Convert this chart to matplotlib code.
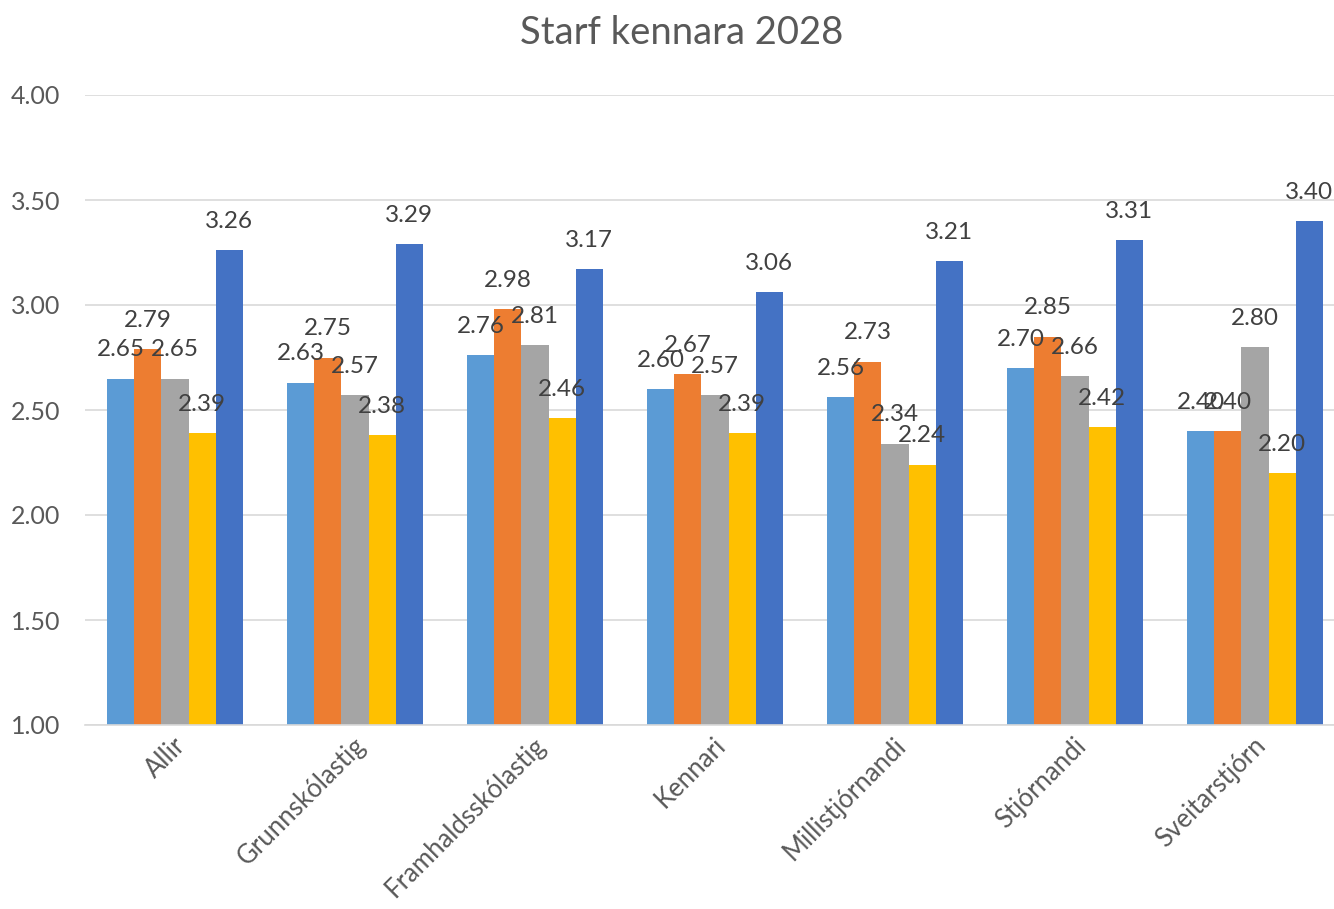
import matplotlib.pyplot as plt
import matplotlib.transforms as mtransforms
import numpy as np

plt.rcParams['font.family'] = ['Lato', 'DejaVu Sans']

# Gögn
categories = ["Allir", "Grunnskólastig", "Framhaldsskólastig", "Kennari",
              "Millistjórnandi", "Stjórnandi", "Sveitarstjórn"]
series_1 = [2.65, 2.63, 2.76, 2.60, 2.56, 2.70, 2.40]
series_2 = [2.79, 2.75, 2.98, 2.67, 2.73, 2.85, 2.40]
series_3 = [2.65, 2.57, 2.81, 2.57, 2.34, 2.66, 2.80]
series_4 = [2.39, 2.38, 2.46, 2.39, 2.24, 2.42, 2.20]
series_5 = [3.26, 3.29, 3.17, 3.06, 3.21, 3.31, 3.40]
y_ticks = [1.0, 1.5, 2.0, 2.5, 3.0, 3.5, 4.0]

series = [series_1, series_2, series_3, series_4, series_5]
colors = ['#5B9BD5', '#ED7D31', '#A5A5A5', '#FFC000', '#4472C4']
text_color = '#595959'

W, H = 1334, 909
fig = plt.figure(figsize=(W / 100, H / 100), dpi=100)
left, right = 85 / W, 1.0
top, bottom = 1 - 95 / H, 1 - 725 / H
ax = fig.add_axes([left, bottom, right - left, top - bottom])

x = np.arange(len(categories))
bw = 0.151
for i, vals in enumerate(series):
    xs = x + (i - 2) * bw
    ax.bar(xs, np.array(vals) - 1.0, bottom=1.0, width=bw, color=colors[i], zorder=2)
    for xi, v in zip(xs, vals):
        ax.annotate(f"{v:.2f}", (xi, v), xytext=(0, 16), textcoords='offset points',
                    ha='center', va='baseline', fontsize=17.5, color='#404040', zorder=3)

ax.set_ylim(1, 4)
ax.set_xlim(-0.5, -0.5 + (W - 85) / 180)
ax.set_yticks(y_ticks)
ax.set_yticklabels([f"{t:.2f}" for t in y_ticks])
ax.grid(axis='y', color='#D9D9D9', linewidth=1.2, zorder=0)
for s in ['top', 'right', 'left']:
    ax.spines[s].set_visible(False)
ax.spines['bottom'].set_color('#D9D9D9')
ax.spines['bottom'].set_linewidth(1.2)
ax.tick_params(axis='y', length=0, pad=18, labelsize=18, labelcolor=text_color)
ax.tick_params(axis='x', length=0, pad=12, labelsize=18.5, labelcolor=text_color)

ax.set_xticks(x)
ax.set_xticklabels(categories, rotation=45, ha='right', va='center', rotation_mode='anchor')
offset = mtransforms.ScaledTranslation(5 / 72, 0, fig.dpi_scale_trans)
for lbl in ax.get_xticklabels():
    lbl.set_transform(lbl.get_transform() + offset)

fig.text(682 / W, 1 - 33 / H, "Starf kennara 2028", ha='center', va='center',
         fontsize=27.5, color=text_color)

fig.savefig("out.png", dpi=100, facecolor='white')
